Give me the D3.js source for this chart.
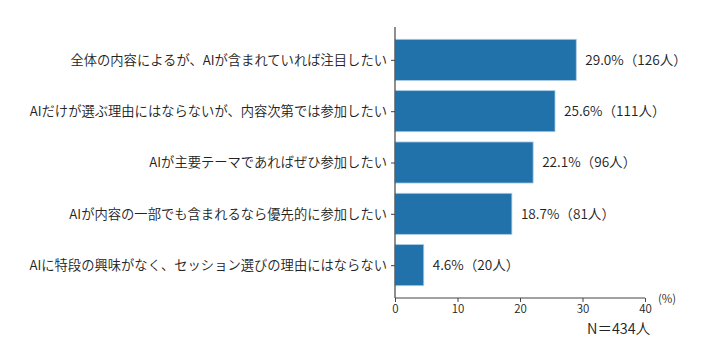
<!DOCTYPE html>
<html><head><meta charset="utf-8">
<script src="https://cdn.jsdelivr.net/npm/d3@7/dist/d3.min.js"></script>
<style>
html,body{margin:0;padding:0;background:#fff;}
text{font-family:"Noto Sans CJK JP","Noto Sans",sans-serif;fill:#222;font-weight:350;}
</style></head>
<body>
<svg id="c" width="720" height="360"></svg>
<script>
const categories = [
  "全体の内容によるが、AIが含まれていれば注目したい",
  "AIだけが選ぶ理由にはならないが、内容次第では参加したい",
  "AIが主要テーマであればぜひ参加したい",
  "AIが内容の一部でも含まれるなら優先的に参加したい",
  "AIに特段の興味がなく、セッション選びの理由にはならない"
];
const percents = [29.0, 25.6, 22.1, 18.7, 4.6];
const counts = [126, 111, 96, 81, 20];
const xTicks = [0, 10, 20, 30, 40];
const unitLabel = "(%)";
const nLabel = "N＝434人";

const svg = d3.select("#c");
const pLeft = 395, pRight = 645, pTop = 27, pBottom = 298;
const x = d3.scaleLinear().domain([0, 40]).range([pLeft, pRight]);
const barH = 0.8;
const y = d3.scaleLinear().domain([-0.5 - 0.14, categories.length - 0.5 + 0.14]).range([pTop, pBottom]);

const g = svg.append("g");
g.selectAll("rect.bar").data(percents).join("rect")
  .attr("class","bar")
  .attr("x", x(0))
  .attr("y", (d,i)=>y(i - barH/2))
  .attr("width", d=>x(d)-x(0))
  .attr("height", y(barH) - y(0))
  .attr("fill", "#2171aa")
  .attr("stroke", "#a9cbe6")
  .attr("stroke-width", 0.8);

g.selectAll("text.val").data(percents).join("text")
  .attr("class","val")
  .attr("x", d=>x(d)+9)
  .attr("y", (d,i)=>y(i))
  .attr("dy","0.36em")
  .attr("font-size", 13.6)
  .text((d,i)=>d.toFixed(1)+"%（"+counts[i]+"人）");

const yAxis = d3.axisLeft(y).tickValues(d3.range(categories.length))
  .tickFormat(i=>categories[i]).tickSize(4).tickPadding(4);
const ya = svg.append("g").attr("transform",`translate(${pLeft},0)`).call(yAxis);
ya.select(".domain").remove();
ya.selectAll(".tick line").attr("stroke","#444");
ya.selectAll(".tick text").attr("font-size", 13.3).style("fill","#222");
svg.append("line").attr("x1",pLeft).attr("x2",pLeft).attr("y1",pTop).attr("y2",pBottom)
  .attr("stroke","#444").attr("stroke-width",1.2);

const xAxis = d3.axisBottom(x).tickValues(xTicks).tickSize(4).tickPadding(3);
const xa = svg.append("g").attr("transform",`translate(0,${pBottom})`).call(xAxis);
xa.select(".domain").remove();
xa.selectAll(".tick line").attr("stroke","#444");
xa.selectAll(".tick text").attr("font-size", 11.5).style("fill","#222");
svg.append("line").attr("x1",pLeft).attr("x2",pRight).attr("y1",pBottom).attr("y2",pBottom)
  .attr("stroke","#444").attr("stroke-width",1.2);

svg.append("text").attr("x", 658).attr("y", 303).attr("font-size", 11.5).text(unitLabel);
svg.append("text").attr("x", 587).attr("y", 334).attr("font-size", 14.5).text(nLabel);
</script>
</body></html>
